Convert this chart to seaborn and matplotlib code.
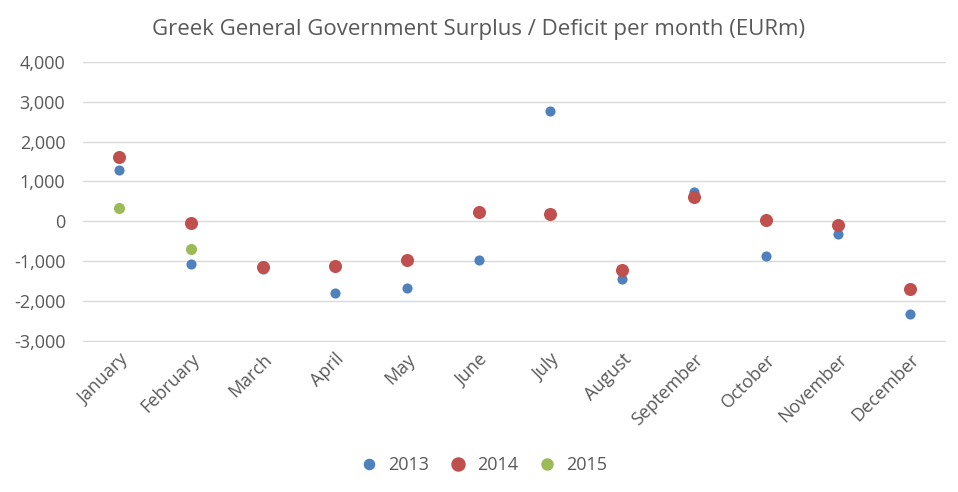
import matplotlib
matplotlib.use('Agg')
import matplotlib.pyplot as plt
from matplotlib.lines import Line2D
from matplotlib.ticker import FuncFormatter
import seaborn as sns
import pandas as pd

months = ['January', 'February', 'March', 'April', 'May', 'June', 'July',
          'August', 'September', 'October', 'November', 'December']
balance_2013 = [1300, -1080, -1190, -1800, -1675, -975, 2775, -1450, 725, -875, -325, -2325]
balance_2014 = [1625, -50, -1160, -1135, -975, 230, 175, -1225, 615, 40, -100, -1700]
balance_2015 = [330, -690]

years = ['2013', '2014', '2015']
colors = {'2013': '#4F81BD', '2014': '#C0504D', '2015': '#9BBB59'}
sizes = {'2013': 7.3, '2014': 9.4, '2015': 8.0}

rows = []
for year, vals in zip(years, [balance_2013, balance_2014, balance_2015]):
    for m, v in zip(months, vals):
        rows.append({'month': m, 'value': v, 'year': year})
df = pd.DataFrame(rows)

sns.set_style('white')
plt.rcParams['font.family'] = ['Open Sans', 'DejaVu Sans']
text_col = '#595959'

fig = plt.figure(figsize=(9.58, 4.92), dpi=100)
ax = fig.add_axes([0.087, 0.305, 0.9, 0.569])

for year in years:
    sub = df[df['year'] == year]
    sns.stripplot(data=sub, x='month', y='value', order=months, jitter=False,
                  color=colors[year], size=sizes[year], linewidth=0, ax=ax, zorder=3)

ax.set_ylim(-3030, 4000)
ax.set_xlim(-0.5, 11.5)
ax.set_yticks(range(-3000, 4001, 1000))
ax.yaxis.set_major_formatter(FuncFormatter(lambda v, p: f'{int(v):,}'))
ax.grid(axis='y', color='#D9D9D9', linewidth=1)
ax.set_axisbelow(True)
for s in ax.spines.values():
    s.set_visible(False)
ax.set_xlabel('')
ax.set_ylabel('')
ax.tick_params(axis='both', length=0, labelsize=13, colors=text_col)
ax.tick_params(axis='y', pad=13)
ax.tick_params(axis='x', pad=6)
plt.setp(ax.get_xticklabels(), rotation=45, ha='right', rotation_mode='anchor')

fig.suptitle('Greek General Government Surplus / Deficit per month (EURm)',
             x=0.5, y=0.962, fontsize=16, color=text_col)

handles = [Line2D([], [], marker='o', linestyle='', color=colors[y],
                  markersize=sizes[y], label=y) for y in years]
fig.legend(handles=handles, loc='center', bbox_to_anchor=(0.5, 0.055), ncol=3,
           frameon=False, fontsize=13, handletextpad=0.05, columnspacing=0.6,
           labelcolor=text_col)

fig.savefig('out.png', dpi=100)
